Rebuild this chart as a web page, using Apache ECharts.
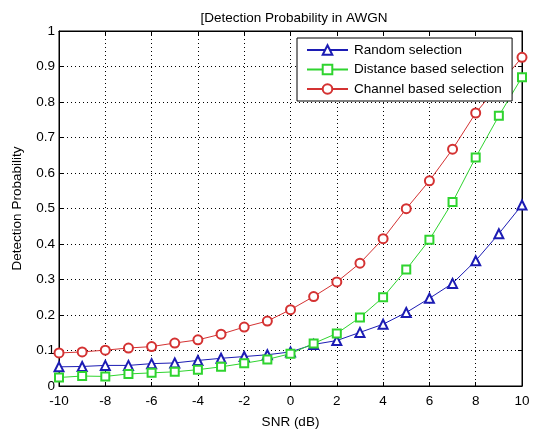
<!DOCTYPE html>
<html>
<head>
<meta charset="utf-8">
<script src="https://cdn.jsdelivr.net/npm/echarts@6/dist/echarts.min.js"></script>
<style>
  html, body { margin: 0; padding: 0; background: #fff; }
  #chart { width: 535px; height: 434px; }
</style>
</head>
<body>
<div id="chart"></div>
<script>
// SNR values (dB)
const snr = [-10, -9, -8, -7, -6, -5, -4, -3, -2, -1, 0, 1, 2, 3, 4, 5, 6, 7, 8, 9, 10];

const randomSel = [0.054, 0.055, 0.058, 0.058, 0.063, 0.065, 0.072, 0.078, 0.083, 0.088, 0.096,
  0.117, 0.128, 0.151, 0.174, 0.207, 0.247, 0.289, 0.353, 0.429, 0.51];
const distanceSel = [0.024, 0.028, 0.027, 0.034, 0.037, 0.040, 0.046, 0.054, 0.064, 0.075, 0.091,
  0.12, 0.148, 0.193, 0.25, 0.328, 0.412, 0.518, 0.644, 0.761, 0.87];
const channelSel = [0.093, 0.096, 0.101, 0.107, 0.111, 0.121, 0.130, 0.146, 0.166, 0.183, 0.215,
  0.252, 0.293, 0.346, 0.415, 0.4995, 0.578, 0.667, 0.769, 0.848, 0.926];

const names = ['Random selection', 'Distance based selection', 'Channel based selection'];
const colors = ['#1c1cb4', '#2fd42f', '#d43232'];

const font = 'Liberation Sans, Arial, sans-serif';
const fs = 13.5;

const makeSeries = (name, values, color, symbol, size) => ({
  name: name,
  type: 'line',
  data: snr.map((x, i) => [x, values[i]]),
  symbol: symbol,
  symbolSize: size,
  showAllSymbol: true,
  lineStyle: { color: color, width: 1 },
  itemStyle: { color: color, borderColor: color, borderWidth: 1 },
  emphasis: { disabled: true },
  animation: false
});

const chart = echarts.init(document.getElementById('chart'), null, { renderer: 'canvas' });

const tickInside = { show: true, inside: true, length: 4, lineStyle: { color: '#000' } };

chart.setOption({
  backgroundColor: '#fff',
  title: {
    text: '[Detection Probability in AWGN',
    left: 289,
    top: 6,
    textAlign: 'center',
    textStyle: { fontFamily: font, fontSize: fs, fontWeight: 'normal', color: '#000' }
  },
  grid: { left: 59, top: 31, right: 13, bottom: 40, show: true, borderColor: '#000', borderWidth: 1 },
  legend: {
    orient: 'vertical',
    left: 297,
    top: 38,
    padding: [5, 8, 5, 9],
    itemGap: 5.5,
    itemWidth: 41,
    itemHeight: 12,
    backgroundColor: '#fff',
    borderColor: '#000',
    borderWidth: 1,
    textStyle: { fontFamily: font, fontSize: fs, lineHeight: 14, color: '#000', padding: [0, 0, 0, 1] },
    data: names
  },
  xAxis: [{
    type: 'value',
    min: -10,
    max: 10,
    interval: 2,
    name: 'SNR (dB)',
    nameLocation: 'middle',
    nameGap: 29,
    nameTextStyle: { fontFamily: font, fontSize: fs, color: '#000' },
    axisLine: { show: true, onZero: false, lineStyle: { color: '#000' } },
    axisTick: tickInside,
    axisLabel: { fontFamily: font, fontSize: fs, color: '#000', margin: 8 },
    splitLine: { show: true, lineStyle: { color: '#000', type: [1, 3], width: 1 } }
  }, {
    type: 'value',
    position: 'top',
    min: -10,
    max: 10,
    interval: 2,
    axisLine: { show: true, onZero: false, lineStyle: { color: '#000' } },
    axisTick: tickInside,
    axisLabel: { show: false },
    splitLine: { show: false }
  }],
  yAxis: [{
    type: 'value',
    min: 0,
    max: 1,
    interval: 0.1,
    name: 'Detection Probability',
    nameLocation: 'middle',
    nameGap: 35,
    nameTextStyle: { fontFamily: font, fontSize: fs, color: '#000' },
    axisLine: { show: true, onZero: false, lineStyle: { color: '#000' } },
    axisTick: tickInside,
    axisLabel: {
      fontFamily: font, fontSize: fs, color: '#000', margin: 4,
      formatter: v => (Math.round(v * 10) / 10).toString()
    },
    splitLine: { show: true, lineStyle: { color: '#000', type: [1, 3], width: 1 } }
  }, {
    type: 'value',
    position: 'right',
    min: 0,
    max: 1,
    interval: 0.1,
    axisLine: { show: true, onZero: false, lineStyle: { color: '#000' } },
    axisTick: tickInside,
    axisLabel: { show: false },
    splitLine: { show: false }
  }],
  series: [
    makeSeries(names[0], randomSel, colors[0], 'emptyTriangle', 9),
    makeSeries(names[1], distanceSel, colors[1], 'emptyRect', 8),
    makeSeries(names[2], channelSel, colors[2], 'emptyCircle', 9)
  ]
});
</script>
</body>
</html>
